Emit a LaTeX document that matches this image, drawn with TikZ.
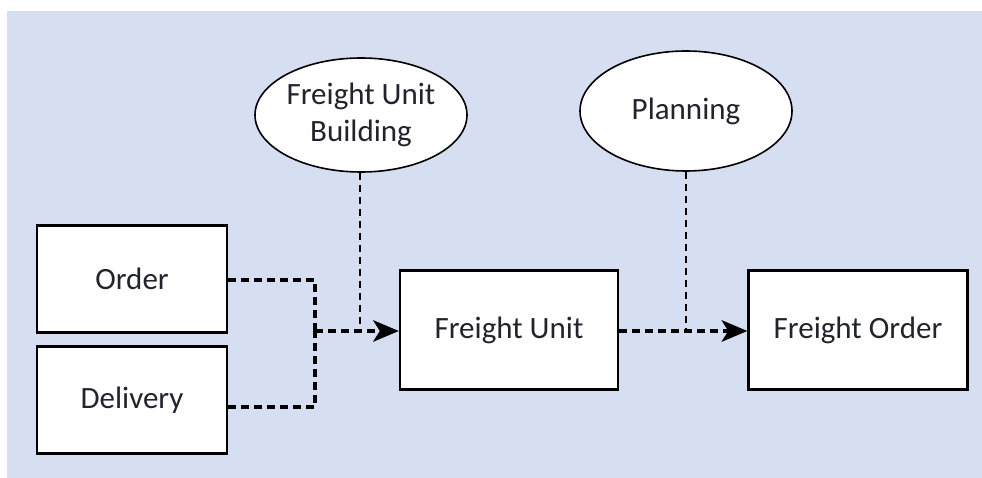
\documentclass[tikz,border=0pt]{standalone}
\usepackage{fontspec}
\setmainfont{Carlito}
\usetikzlibrary{shapes.geometric,arrows.meta}
\definecolor{panel}{RGB}{213,223,241}
\definecolor{ink}{RGB}{35,35,45}
\begin{document}
\begin{tikzpicture}[x=1pt,y=-1pt,
  every node/.style={font=\fontsize{31}{37}\selectfont, text=ink},
  box/.style={draw=black, line width=2.4pt, fill=white, inner sep=0pt},
  oval/.style={ellipse, draw=black, line width=1.6pt, fill=white, inner sep=0pt, align=center},
  flow/.style={line width=3.2pt, dash pattern=on 8pt off 5pt},
  tie/.style={line width=1.6pt, dash pattern=on 7pt off 5pt},
  tip/.style={-{Stealth[length=26pt,width=22pt,inset=7pt,line width=0pt]}}]
\useasboundingbox (0,0) rectangle (982,478);
\fill[panel] (7,11) rectangle (982,478);

\node[box, minimum width=190pt, minimum height=107pt] (order) at (132,279) {Order};
\node[box, minimum width=190pt, minimum height=107pt] (delivery) at (132,400) {Delivery};
\node[box, minimum width=218pt, minimum height=119pt] (fu) at (509,330) {Freight Unit};
\node[box, minimum width=219pt, minimum height=119pt] (fo) at (858,330) {Freight Order};

\node[oval, minimum width=212pt, minimum height=114pt] (fub) at (361,115) {Freight Unit\\Building};
\node[oval, minimum width=212pt, minimum height=120pt] (plan) at (686,111) {Planning};

\coordinate (join) at (315,331);
\coordinate (m1) at (360,331);
\coordinate (m2) at (686,331);

\draw[flow] (order.east |- 0,280) -| (join);
\draw[flow] (delivery.east |- 0,407) -| (join);
\draw[flow, tip] (join) -- (fu.west |- join);
\draw[tie] (fub.south -| m1) -- (m1);
\draw[flow, tip] (fu.east |- m2) -- (fo.west |- m2);
\draw[tie] (plan.south) -- (m2);
\end{tikzpicture}
\end{document}
